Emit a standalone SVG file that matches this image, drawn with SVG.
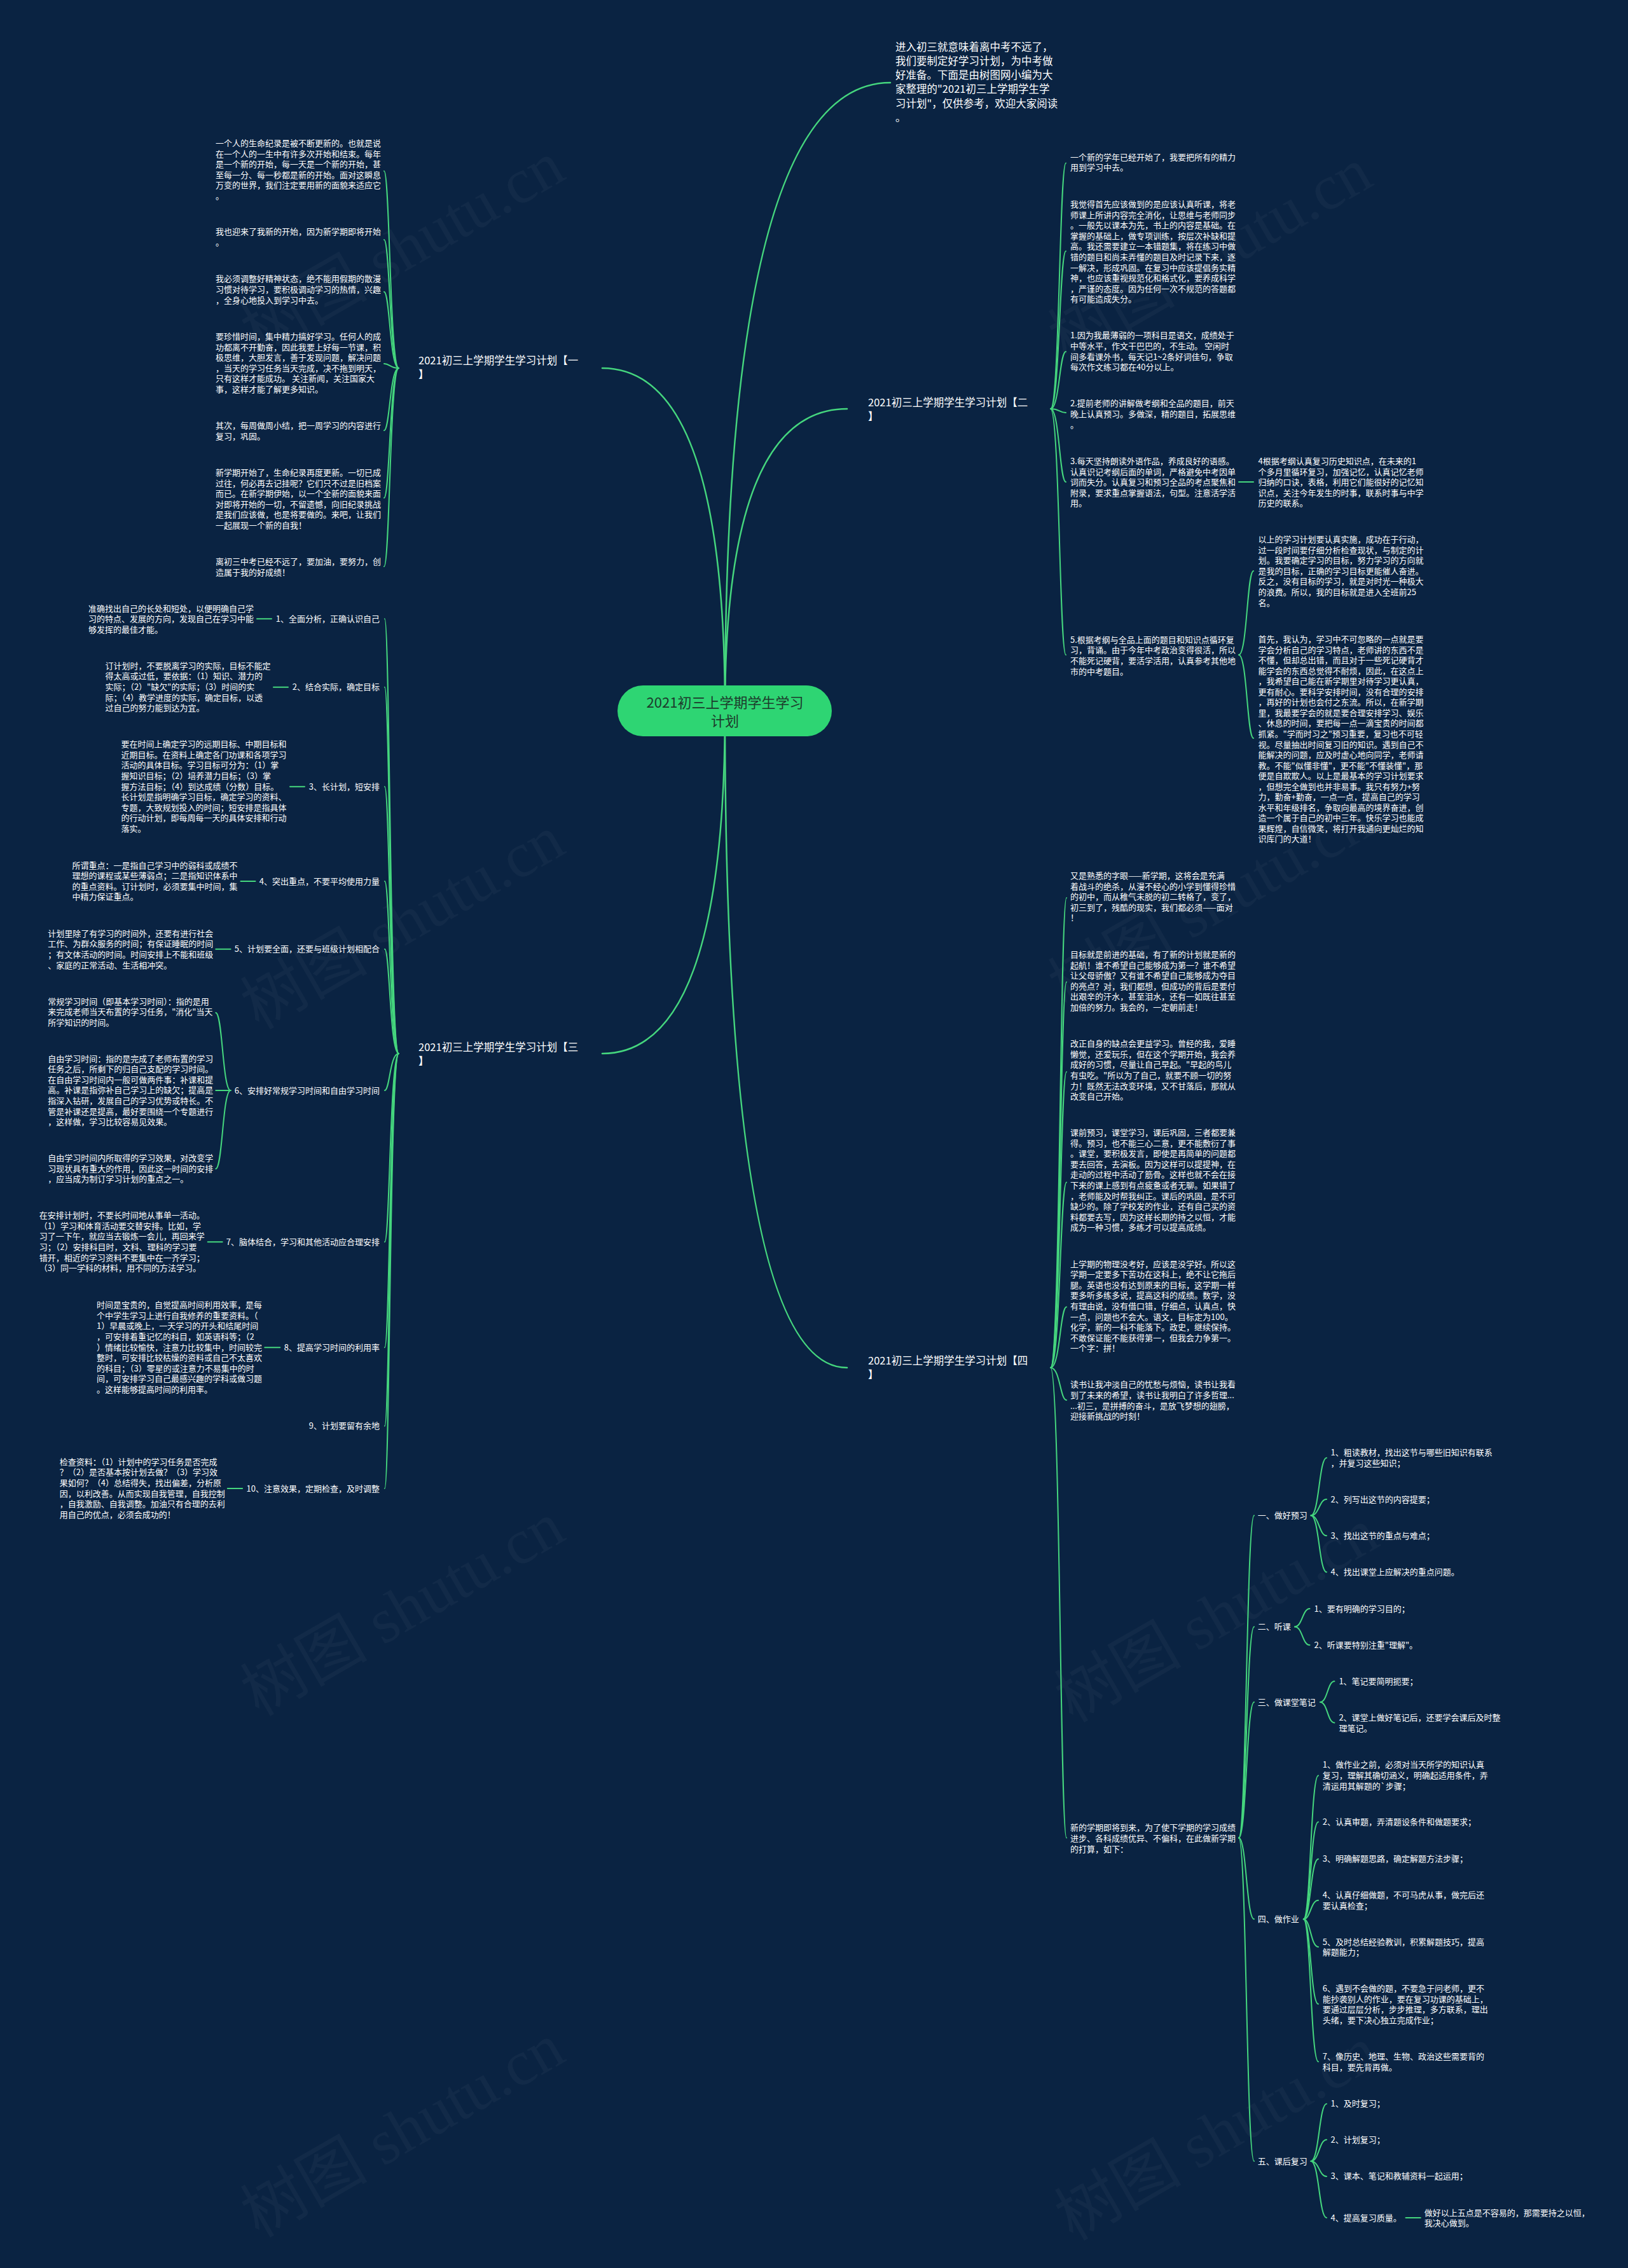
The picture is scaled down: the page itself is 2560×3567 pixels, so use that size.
<svg xmlns="http://www.w3.org/2000/svg" width="2560" height="3567" viewBox="0 0 2560 3567">
<style>
.t{font-family:"Noto Sans CJK SC","Noto Sans",sans-serif;font-size:13px;fill:#ffffff}
.l{font-size:16.5px}
.ct{font-family:"Noto Sans CJK SC","Noto Sans",sans-serif;font-size:22px;fill:#1d3b2c}
.e{text-anchor:end}
.c{stroke:#45d67e;stroke-width:2;fill:none;stroke-linecap:round}
.c1{stroke-width:2.5}
.wm{font-family:"Liberation Serif","Noto Sans CJK SC",serif;font-size:100px;fill:#ffffff;fill-opacity:0.035;text-anchor:middle}
</style>
<rect x="0" y="0" width="2560" height="3567" fill="#0a2342"/>
<g id="watermarks">
<text class="wm" x="650" y="420" transform="rotate(-30 650 420)">树图 shutu.cn</text>
<text class="wm" x="1920" y="430" transform="rotate(-30 1920 430)">树图 shutu.cn</text>
<text class="wm" x="650" y="1480" transform="rotate(-30 650 1480)">树图 shutu.cn</text>
<text class="wm" x="1920" y="1450" transform="rotate(-30 1920 1450)">树图 shutu.cn</text>
<text class="wm" x="650" y="2560" transform="rotate(-30 650 2560)">树图 shutu.cn</text>
<text class="wm" x="1930" y="2570" transform="rotate(-30 1930 2570)">树图 shutu.cn</text>
<text class="wm" x="650" y="3380" transform="rotate(-30 650 3380)">树图 shutu.cn</text>
<text class="wm" x="1930" y="3385" transform="rotate(-30 1930 3385)">树图 shutu.cn</text>
</g>
<g id="connectors">
<path class="c c1" d="M1140,1118 Q1140,130 1400,130"/>
<path class="c c1" d="M1140,1118 Q1140,579 947,579"/>
<path class="c c1" d="M1140,1118 Q1140,643 1332,643"/>
<path class="c c1" d="M1140,1118 Q1140,1657 947,1657"/>
<path class="c c1" d="M1140,1118 Q1140,2151 1332,2151"/>
<path class="c" d="M627,579 C613,579 613,269 604,269"/>
<path class="c" d="M627,579 C613,579 613,377 604,377"/>
<path class="c" d="M627,579 C613,579 613,459 604,459"/>
<path class="c" d="M627,579 C613,579 613,572 604,572"/>
<path class="c" d="M627,579 C613,579 613,677 604,677"/>
<path class="c" d="M627,579 C613,579 613,783 604,783"/>
<path class="c" d="M627,579 C613,579 613,891 604,891"/>
<path class="c" d="M1652,643 C1666,643 1666,256.5 1676,256.5"/>
<path class="c" d="M1652,643 C1666,643 1666,395 1676,395"/>
<path class="c" d="M1652,643 C1666,643 1666,553 1676,553"/>
<path class="c" d="M1652,643 C1666,643 1666,649 1676,649"/>
<path class="c" d="M1652,643 C1666,643 1666,758 1676,758"/>
<path class="c" d="M1652,643 C1666,643 1666,1030 1676,1030"/>
<path class="c" d="M1948,758 L1971,758"/>
<path class="c" d="M1948,1030 C1961,1030 1961,898 1971,898"/>
<path class="c" d="M1948,1030 C1961,1030 1961,1161 1971,1161"/>
<path class="c" d="M627,1657 C613,1657 613,973.3 605,973.3"/>
<path class="c" d="M627,1657 C613,1657 613,1080.7 605,1080.7"/>
<path class="c" d="M627,1657 C613,1657 613,1237.3 605,1237.3"/>
<path class="c" d="M627,1657 C613,1657 613,1386 605,1386"/>
<path class="c" d="M627,1657 C613,1657 613,1492.7 605,1492.7"/>
<path class="c" d="M627,1657 C613,1657 613,1715 605,1715"/>
<path class="c" d="M627,1657 C613,1657 613,1953.3 605,1953.3"/>
<path class="c" d="M627,1657 C613,1657 613,2119.3 605,2119.3"/>
<path class="c" d="M627,1657 C613,1657 613,2242.7 605,2242.7"/>
<path class="c" d="M627,1657 C613,1657 613,2341 605,2341"/>
<path class="c" d="M404,973.3 L427,973.3"/>
<path class="c" d="M430,1080.7 L453,1080.7"/>
<path class="c" d="M456,1237.3 L479,1237.3"/>
<path class="c" d="M378.5,1386 L401.5,1386"/>
<path class="c" d="M339.3,1492.7 L362.6,1492.7"/>
<path class="c" d="M362.6,1715 C350,1715 350,1592.7 339.3,1592.7"/>
<path class="c" d="M362.6,1715 L339.3,1715"/>
<path class="c" d="M362.6,1715 C350,1715 350,1838.3 339.3,1838.3"/>
<path class="c" d="M326.7,1953.3 L349.7,1953.3"/>
<path class="c" d="M416.3,2119.3 L440.3,2119.3"/>
<path class="c" d="M357.8,2341 L381.1,2341"/>
<path class="c" d="M1652,2151 C1667,2151 1667,1412 1677,1412"/>
<path class="c" d="M1652,2151 C1667,2151 1667,1544.6 1677,1544.6"/>
<path class="c" d="M1652,2151 C1667,2151 1667,1685.7 1677,1685.7"/>
<path class="c" d="M1652,2151 C1667,2151 1667,1859.6 1677,1859.6"/>
<path class="c" d="M1652,2151 C1667,2151 1667,2055.6 1677,2055.6"/>
<path class="c" d="M1652,2151 C1667,2151 1667,2202 1677,2202"/>
<path class="c" d="M1652,2151 C1667,2151 1667,2890.4 1677,2890.4"/>
<path class="c" d="M1948,2890.4 C1960,2890.4 1960,2383.6 1972,2383.6"/>
<path class="c" d="M1948,2890.4 C1960,2890.4 1960,2558.4 1972,2558.4"/>
<path class="c" d="M1948,2890.4 C1960,2890.4 1960,2677 1972,2677"/>
<path class="c" d="M1948,2890.4 C1960,2890.4 1960,3018.3 1972,3018.3"/>
<path class="c" d="M1948,2890.4 C1960,2890.4 1960,3399 1972,3399"/>
<path class="c" d="M2061.5,2383.6 C2074.3,2383.6 2074.3,2292.7 2086,2292.7"/>
<path class="c" d="M2061.5,2383.6 C2074.3,2383.6 2074.3,2358 2086,2358"/>
<path class="c" d="M2061.5,2383.6 C2074.3,2383.6 2074.3,2415.3 2086,2415.3"/>
<path class="c" d="M2061.5,2383.6 C2074.3,2383.6 2074.3,2472.6 2086,2472.6"/>
<path class="c" d="M2036,2558.4 C2048,2558.4 2048,2530 2059.5,2530"/>
<path class="c" d="M2036,2558.4 C2048,2558.4 2048,2587.3 2059.5,2587.3"/>
<path class="c" d="M2076,2677 C2087.5,2677 2087.5,2644.2 2098.4,2644.2"/>
<path class="c" d="M2076,2677 C2087.5,2677 2087.5,2709.5 2098.4,2709.5"/>
<path class="c" d="M2049.8,3018.3 C2061,3018.3 2061,2792.5 2073,2792.5"/>
<path class="c" d="M2049.8,3018.3 C2061,3018.3 2061,2865.5 2073,2865.5"/>
<path class="c" d="M2049.8,3018.3 C2061,3018.3 2061,2923.7 2073,2923.7"/>
<path class="c" d="M2049.8,3018.3 C2061,3018.3 2061,2988.8 2073,2988.8"/>
<path class="c" d="M2049.8,3018.3 C2061,3018.3 2061,3062 2073,3062"/>
<path class="c" d="M2049.8,3018.3 C2061,3018.3 2061,3151.8 2073,3151.8"/>
<path class="c" d="M2049.8,3018.3 C2061,3018.3 2061,3242.5 2073,3242.5"/>
<path class="c" d="M2061.5,3399 C2074.3,3399 2074.3,3308.8 2086,3308.8"/>
<path class="c" d="M2061.5,3399 C2074.3,3399 2074.3,3365.2 2086,3365.2"/>
<path class="c" d="M2061.5,3399 C2074.3,3399 2074.3,3422.9 2086,3422.9"/>
<path class="c" d="M2061.5,3399 C2074.3,3399 2074.3,3488 2086,3488"/>
<path class="c" d="M2210.5,3488 L2233.8,3488"/>
</g>
<g id="center">
<rect x="971" y="1078" width="337" height="80" rx="40" fill="#2ed573"/>
<text class="ct" text-anchor="middle"><tspan x="1140" y="1113">2021初三上学期学生学习</tspan><tspan x="1140" y="1142">计划</tspan></text>
</g>
<g id="intro"><text class="t l"><tspan x="1408" y="79.5">进入初三就意味着离中考不远了，</tspan><tspan x="1408" dy="22.3">我们要制定好学习计划，为中考做</tspan><tspan x="1408" dy="22.3">好准备。下面是由树图网小编为大</tspan><tspan x="1408" dy="22.3">家整理的"2021初三上学期学生学</tspan><tspan x="1408" dy="22.3">习计划"，仅供参考，欢迎大家阅读</tspan><tspan x="1408" dy="22.3">。</tspan></text></g>
<g id="branch1"><text class="t l"><tspan x="658" y="573">2021初三上学期学生学习计划【一</tspan><tspan x="658" dy="22">】</tspan></text></g>
<g id="b1n1"><text class="t"><tspan x="339" y="230">一个人的生命纪录是被不断更新的。也就是说</tspan><tspan x="339" dy="16.6">在一个人的一生中有许多次开始和结束。每年</tspan><tspan x="339" dy="16.6">是一个新的开始，每一天是一个新的开始，甚</tspan><tspan x="339" dy="16.6">至每一分、每一秒都是新的开始。面对这瞬息</tspan><tspan x="339" dy="16.6">万变的世界，我们注定要用新的面貌来适应它</tspan><tspan x="339" dy="16.6">。</tspan></text></g>
<g id="b1n2"><text class="t"><tspan x="339" y="369">我也迎来了我新的开始，因为新学期即将开始</tspan><tspan x="339" dy="16.6">。</tspan></text></g>
<g id="b1n3"><text class="t"><tspan x="339" y="443.4">我必须调整好精神状态，绝不能用假期的散漫</tspan><tspan x="339" dy="16.6">习惯对待学习，要积极调动学习的热情，兴趣</tspan><tspan x="339" dy="16.6">，全身心地投入到学习中去。</tspan></text></g>
<g id="b1n4"><text class="t"><tspan x="339" y="534">要珍惜时间，集中精力搞好学习。任何人的成</tspan><tspan x="339" dy="16.6">功都离不开勤奋，因此我要上好每一节课，积</tspan><tspan x="339" dy="16.6">极思维，大胆发言，善于发现问题，解决问题</tspan><tspan x="339" dy="16.6">，当天的学习任务当天完成，决不拖到明天，</tspan><tspan x="339" dy="16.6">只有这样才能成功。 关注新闻，关注国家大</tspan><tspan x="339" dy="16.6">事，这样才能了解更多知识。</tspan></text></g>
<g id="b1n5"><text class="t"><tspan x="339" y="674">其次，每周做周小结，把一周学习的内容进行</tspan><tspan x="339" dy="16.6">复习，巩固。</tspan></text></g>
<g id="b1n6"><text class="t"><tspan x="339" y="748">新学期开始了，生命纪录再度更新。一切已成</tspan><tspan x="339" dy="16.6">过往，何必再去记挂呢？它们只不过是旧档案</tspan><tspan x="339" dy="16.6">而已。在新学期伊始，以一个全新的面貌来面</tspan><tspan x="339" dy="16.6">对即将开始的一切，不留遗憾，向旧纪录挑战</tspan><tspan x="339" dy="16.6">是我们应该做，也是将要做的。来吧，让我们</tspan><tspan x="339" dy="16.6">一起展现一个新的自我！</tspan></text></g>
<g id="b1n7"><text class="t"><tspan x="339" y="888">离初三中考已经不远了，要加油，要努力，创</tspan><tspan x="339" dy="16.6">造属于我的好成绩！</tspan></text></g>
<g id="branch2"><text class="t l"><tspan x="1365" y="639">2021初三上学期学生学习计划【二</tspan><tspan x="1365" dy="22">】</tspan></text></g>
<g id="b2n1"><text class="t"><tspan x="1683" y="251.5">一个新的学年已经开始了，我要把所有的精力</tspan><tspan x="1683" dy="16.6">用到学习中去。</tspan></text></g>
<g id="b2n2"><text class="t"><tspan x="1683" y="326">我觉得首先应该做到的是应该认真听课，将老</tspan><tspan x="1683" dy="16.6">师课上所讲内容完全消化，让思维与老师同步</tspan><tspan x="1683" dy="16.6">。一般先以课本为先，书上的内容是基础。在</tspan><tspan x="1683" dy="16.6">掌握的基础上，做专项训练，按层次补缺和提</tspan><tspan x="1683" dy="16.6">高。我还需要建立一本错题集，将在练习中做</tspan><tspan x="1683" dy="16.6">错的题目和尚未弄懂的题目及时记录下来，逐</tspan><tspan x="1683" dy="16.6">一解决，形成巩固。在复习中应该提倡务实精</tspan><tspan x="1683" dy="16.6">神，也应该重视规范化和格式化，要养成科学</tspan><tspan x="1683" dy="16.6">，严谨的态度。因为任何一次不规范的答题都</tspan><tspan x="1683" dy="16.6">有可能造成失分。</tspan></text></g>
<g id="b2n3"><text class="t"><tspan x="1683" y="532.3">1.因为我最薄弱的一项科目是语文，成绩处于</tspan><tspan x="1683" dy="16.6">中等水平，作文干巴巴的，不生动。 空闲时</tspan><tspan x="1683" dy="16.6">间多看课外书，每天记1~2条好词佳句，争取</tspan><tspan x="1683" dy="16.6">每次作文练习都在40分以上。</tspan></text></g>
<g id="b2n4"><text class="t"><tspan x="1683" y="639.4">2.提前老师的讲解做考纲和全品的题目，前天</tspan><tspan x="1683" dy="16.6">晚上认真预习。多做深，精的题目，拓展思维</tspan><tspan x="1683" dy="16.6">。</tspan></text></g>
<g id="b2n5"><text class="t"><tspan x="1683" y="730">3.每天坚持朗读外语作品，养成良好的语感。</tspan><tspan x="1683" dy="16.6">认真识记考纲后面的单词，严格避免中考因单</tspan><tspan x="1683" dy="16.6">词而失分。认真复习和预习全品的考点聚焦和</tspan><tspan x="1683" dy="16.6">附录，要求重点掌握语法，句型。注意活学活</tspan><tspan x="1683" dy="16.6">用。</tspan></text></g>
<g id="b2n5a"><text class="t"><tspan x="1978.5" y="730">4根据考纲认真复习历史知识点，在未来的1</tspan><tspan x="1978.5" dy="16.6">个多月里循环复习，加强记忆，认真记忆老师</tspan><tspan x="1978.5" dy="16.6">归纳的口诀，表格，利用它们能很好的记忆知</tspan><tspan x="1978.5" dy="16.6">识点，关注今年发生的时事，联系时事与中学</tspan><tspan x="1978.5" dy="16.6">历史的联系。</tspan></text></g>
<g id="b2n6"><text class="t"><tspan x="1683" y="1010.8">5.根据考纲与全品上面的题目和知识点循环复</tspan><tspan x="1683" dy="16.6">习，背诵。由于今年中考政治变得很活，所以</tspan><tspan x="1683" dy="16.6">不能死记硬背，要活学活用，认真参考其他地</tspan><tspan x="1683" dy="16.6">市的中考题目。</tspan></text></g>
<g id="b2n6a"><text class="t"><tspan x="1978.5" y="853">以上的学习计划要认真实施，成功在于行动，</tspan><tspan x="1978.5" dy="16.6">过一段时间要仔细分析检查现状，与制定的计</tspan><tspan x="1978.5" dy="16.6">划。我要确定学习的目标，努力学习的方向就</tspan><tspan x="1978.5" dy="16.6">是我的目标，正确的学习目标更能催人奋进。</tspan><tspan x="1978.5" dy="16.6">反之，没有目标的学习，就是对时光一种极大</tspan><tspan x="1978.5" dy="16.6">的浪费。所以，我的目标就是进入全班前25</tspan><tspan x="1978.5" dy="16.6">名。</tspan></text></g>
<g id="b2n6b"><text class="t"><tspan x="1978.5" y="1010">首先，我认为，学习中不可忽略的一点就是要</tspan><tspan x="1978.5" dy="16.55">学会分析自己的学习特点，老师讲的东西不是</tspan><tspan x="1978.5" dy="16.55">不懂，但却总出错，而且对于一些死记硬背才</tspan><tspan x="1978.5" dy="16.55">能学会的东西总觉得不耐烦，因此，在这点上</tspan><tspan x="1978.5" dy="16.55">，我希望自己能在新学期里对待学习更认真，</tspan><tspan x="1978.5" dy="16.55">更有耐心。要科学安排时间，没有合理的安排</tspan><tspan x="1978.5" dy="16.55">，再好的计划也会付之东流。所以，在新学期</tspan><tspan x="1978.5" dy="16.55">里，我最要学会的就是要合理安排学习、娱乐</tspan><tspan x="1978.5" dy="16.55">、休息的时间，要把每一点一滴宝贵的时间都</tspan><tspan x="1978.5" dy="16.55">抓紧。"学而时习之"预习重要，复习也不可轻</tspan><tspan x="1978.5" dy="16.55">视。尽量抽出时间复习旧的知识。遇到自己不</tspan><tspan x="1978.5" dy="16.55">能解决的问题，应及时虚心地向同学，老师请</tspan><tspan x="1978.5" dy="16.55">教。不能"似懂非懂"，更不能"不懂装懂"，那</tspan><tspan x="1978.5" dy="16.55">便是自欺欺人。以上是最基本的学习计划要求</tspan><tspan x="1978.5" dy="16.55">，但想完全做到也并非易事。我只有努力+努</tspan><tspan x="1978.5" dy="16.55">力，勤奋+勤奋，一点一点，提高自己的学习</tspan><tspan x="1978.5" dy="16.55">水平和年级排名，争取向最高的境界奋进，创</tspan><tspan x="1978.5" dy="16.55">造一个属于自己的初中三年。快乐学习也能成</tspan><tspan x="1978.5" dy="16.55">果辉煌，自信微笑，将打开我通向更灿烂的知</tspan><tspan x="1978.5" dy="16.55">识库门的大道！</tspan></text></g>
<g id="branch3"><text class="t l"><tspan x="658" y="1653">2021初三上学期学生学习计划【三</tspan><tspan x="658" dy="22">】</tspan></text></g>
<g id="b3n1"><text class="t e" x="597" y="977.8">1、全面分析，正确认识自己</text></g>
<g id="b3n1a"><text class="t"><tspan x="139" y="961.8">准确找出自己的长处和短处，以便明确自己学</tspan><tspan x="139" dy="16.6">习的特点、发展的方向，发现自己在学习中能</tspan><tspan x="139" dy="16.6">够发挥的最佳才能。</tspan></text></g>
<g id="b3n2"><text class="t e" x="597" y="1085.2">2、结合实际，确定目标</text></g>
<g id="b3n2a"><text class="t"><tspan x="165.4" y="1051.8">订计划时，不要脱离学习的实际，目标不能定</tspan><tspan x="165.4" dy="16.6">得太高或过低，要依据：（1）知识、潜力的</tspan><tspan x="165.4" dy="16.6">实际；（2）"缺欠"的实际；（3）时间的实</tspan><tspan x="165.4" dy="16.6">际；（4）教学进度的实际，确定目标，以透</tspan><tspan x="165.4" dy="16.6">过自己的努力能到达为宜。</tspan></text></g>
<g id="b3n3"><text class="t e" x="597" y="1241.8">3、长计划，短安排</text></g>
<g id="b3n3a"><text class="t"><tspan x="190.6" y="1175.2">要在时间上确定学习的远期目标、中期目标和</tspan><tspan x="190.6" dy="16.6">近期目标。在资料上确定各门功课和各项学习</tspan><tspan x="190.6" dy="16.6">活动的具体目标。学习目标可分为：（1）掌</tspan><tspan x="190.6" dy="16.6">握知识目标；（2）培养潜力目标；（3）掌</tspan><tspan x="190.6" dy="16.6">握方法目标；（4）到达成绩（分数）目标。</tspan><tspan x="190.6" dy="16.6">长计划是指明确学习目标，确定学习的资料、</tspan><tspan x="190.6" dy="16.6">专题，大致规划投入的时间；短安排是指具体</tspan><tspan x="190.6" dy="16.6">的行动计划，即每周每一天的具体安排和行动</tspan><tspan x="190.6" dy="16.6">落实。</tspan></text></g>
<g id="b3n4"><text class="t e" x="597" y="1390.5">4、突出重点，不要平均使用力量</text></g>
<g id="b3n4a"><text class="t"><tspan x="113.6" y="1365.5">所谓重点：一是指自己学习中的弱科或成绩不</tspan><tspan x="113.6" dy="16.6">理想的课程或某些薄弱点；二是指知识体系中</tspan><tspan x="113.6" dy="16.6">的重点资料。订计划时，必须要集中时间，集</tspan><tspan x="113.6" dy="16.6">中精力保证重点。</tspan></text></g>
<g id="b3n5"><text class="t e" x="597" y="1497.2">5、计划要全面，还要与班级计划相配合</text></g>
<g id="b3n5a"><text class="t"><tspan x="75.2" y="1472.8">计划里除了有学习的时间外，还要有进行社会</tspan><tspan x="75.2" dy="16.6">工作、为群众服务的时间；有保证睡眠的时间</tspan><tspan x="75.2" dy="16.6">；有文体活动的时间。时间安排上不能和班级</tspan><tspan x="75.2" dy="16.6">、家庭的正常活动、生活相冲突。</tspan></text></g>
<g id="b3n6"><text class="t e" x="597" y="1719.5">6、安排好常规学习时间和自由学习时间</text></g>
<g id="b3n6a"><text class="t"><tspan x="75.2" y="1579.5">常规学习时间（即基本学习时间）：指的是用</tspan><tspan x="75.2" dy="16.6">来完成老师当天布置的学习任务，"消化"当天</tspan><tspan x="75.2" dy="16.6">所学知识的时间。</tspan></text></g>
<g id="b3n6b"><text class="t"><tspan x="75.2" y="1669.5">自由学习时间：指的是完成了老师布置的学习</tspan><tspan x="75.2" dy="16.6">任务之后，所剩下的归自己支配的学习时间。</tspan><tspan x="75.2" dy="16.6">在自由学习时间内一般可做两件事：补课和提</tspan><tspan x="75.2" dy="16.6">高。补课是指弥补自己学习上的缺欠；提高是</tspan><tspan x="75.2" dy="16.6">指深入钻研，发展自己的学习优势或特长。不</tspan><tspan x="75.2" dy="16.6">管是补课还是提高，最好要围绕一个专题进行</tspan><tspan x="75.2" dy="16.6">，这样做，学习比较容易见效果。</tspan></text></g>
<g id="b3n6c"><text class="t"><tspan x="75.2" y="1826.2">自由学习时间内所取得的学习效果，对改变学</tspan><tspan x="75.2" dy="16.6">习现状具有重大的作用，因此这一时间的安排</tspan><tspan x="75.2" dy="16.6">，应当成为制订学习计划的重点之一。</tspan></text></g>
<g id="b3n7"><text class="t e" x="597" y="1957.8">7、脑体结合，学习和其他活动应合理安排</text></g>
<g id="b3n7a"><text class="t"><tspan x="61.8" y="1916.2">在安排计划时，不要长时间地从事单一活动。</tspan><tspan x="61.8" dy="16.6">（1）学习和体育活动要交替安排。比如，学</tspan><tspan x="61.8" dy="16.6">习了一下午，就应当去锻炼一会儿，再回来学</tspan><tspan x="61.8" dy="16.6">习；（2）安排科目时，文科、理科的学习要</tspan><tspan x="61.8" dy="16.6">错开，相近的学习资料不要集中在一齐学习；</tspan><tspan x="61.8" dy="16.6">（3）同一学科的材料，用不同的方法学习。</tspan></text></g>
<g id="b3n8"><text class="t e" x="597" y="2123.8">8、提高学习时间的利用率</text></g>
<g id="b3n8a"><text class="t"><tspan x="152.1" y="2057.2">时间是宝贵的，自觉提高时间利用效率，是每</tspan><tspan x="152.1" dy="16.6">个中学生学习上进行自我修养的重要资料。（</tspan><tspan x="152.1" dy="16.6">1）早晨或晚上，一天学习的开头和结尾时间</tspan><tspan x="152.1" dy="16.6">，可安排着重记忆的科目，如英语科等；（2</tspan><tspan x="152.1" dy="16.6">）情绪比较愉快，注意力比较集中，时间较完</tspan><tspan x="152.1" dy="16.6">整时，可安排比较枯燥的资料或自己不太喜欢</tspan><tspan x="152.1" dy="16.6">的科目；（3）零星的或注意力不易集中的时</tspan><tspan x="152.1" dy="16.6">间，可安排学习自己最感兴趣的学科或做习题</tspan><tspan x="152.1" dy="16.6">。这样能够提高时间的利用率。</tspan></text></g>
<g id="b3n9"><text class="t e" x="597" y="2247.2">9、计划要留有余地</text></g>
<g id="b3n10"><text class="t e" x="597" y="2345.5">10、注意效果，定期检查，及时调整</text></g>
<g id="b3n10a"><text class="t"><tspan x="93.7" y="2303.8">检查资料：（1）计划中的学习任务是否完成</tspan><tspan x="93.7" dy="16.6">？（2）是否基本按计划去做？（3）学习效</tspan><tspan x="93.7" dy="16.6">果如何？（4）总结得失，找出偏差，分析原</tspan><tspan x="93.7" dy="16.6">因，以利改善。从而实现自我管理，自我控制</tspan><tspan x="93.7" dy="16.6">，自我激励、自我调整。加油只有合理的去利</tspan><tspan x="93.7" dy="16.6">用自己的优点，必须会成功的！</tspan></text></g>
<g id="branch4"><text class="t l"><tspan x="1365" y="2146">2021初三上学期学生学习计划【四</tspan><tspan x="1365" dy="22">】</tspan></text></g>
<g id="b4n1"><text class="t"><tspan x="1683" y="1382">又是熟悉的字眼——新学期，这将会是充满</tspan><tspan x="1683" dy="16.6">着战斗的绝杀，从漫不经心的小学到懂得珍惜</tspan><tspan x="1683" dy="16.6">的初中，而从稚气未脱的初二转格了，变了，</tspan><tspan x="1683" dy="16.6">初三到了，残酷的现实，我们都必须——面对</tspan><tspan x="1683" dy="16.6">！</tspan></text></g>
<g id="b4n2"><text class="t"><tspan x="1683" y="1506">目标就是前进的基础，有了新的计划就是新的</tspan><tspan x="1683" dy="16.6">起航！谁不希望自己能够成为第一？谁不希望</tspan><tspan x="1683" dy="16.6">让父母骄傲？又有谁不希望自己能够成为夺目</tspan><tspan x="1683" dy="16.6">的亮点？对，我们都想，但成功的背后是要付</tspan><tspan x="1683" dy="16.6">出艰辛的汗水，甚至泪水，还有一如既往甚至</tspan><tspan x="1683" dy="16.6">加倍的努力。我会的，一定朝前走！</tspan></text></g>
<g id="b4n3"><text class="t"><tspan x="1683" y="1646.2">改正自身的缺点会更益学习。曾经的我，爱睡</tspan><tspan x="1683" dy="16.6">懒觉，还爱玩乐，但在这个学期开始，我会养</tspan><tspan x="1683" dy="16.6">成好的习惯，尽量让自己早起。"早起的鸟儿</tspan><tspan x="1683" dy="16.6">有虫吃。"所以为了自己，就要不顾一切的努</tspan><tspan x="1683" dy="16.6">力！既然无法改变环境，又不甘落后，那就从</tspan><tspan x="1683" dy="16.6">改变自己开始。</tspan></text></g>
<g id="b4n4"><text class="t"><tspan x="1683" y="1786">课前预习，课堂学习，课后巩固，三者都要兼</tspan><tspan x="1683" dy="16.6">得。预习，也不能三心二意，更不能敷衍了事</tspan><tspan x="1683" dy="16.6">。课堂，要积极发言，即使是再简单的问题都</tspan><tspan x="1683" dy="16.6">要去回答，去演板。因为这样可以提提神，在</tspan><tspan x="1683" dy="16.6">走动的过程中活动了筋骨。这样也就不会在接</tspan><tspan x="1683" dy="16.6">下来的课上感到有点疲惫或者无聊。如果错了</tspan><tspan x="1683" dy="16.6">，老师能及时帮我纠正。课后的巩固，是不可</tspan><tspan x="1683" dy="16.6">缺少的。除了学校发的作业，还有自己买的资</tspan><tspan x="1683" dy="16.6">料都要去写，因为这样长期的持之以恒，才能</tspan><tspan x="1683" dy="16.6">成为一种习惯，多练才可以提高成绩。</tspan></text></g>
<g id="b4n5"><text class="t"><tspan x="1683" y="1992.6">上学期的物理没考好，应该是没学好。所以这</tspan><tspan x="1683" dy="16.6">学期一定要多下苦功在这科上，绝不让它拖后</tspan><tspan x="1683" dy="16.6">腿。英语也没有达到原来的目标，这学期一样</tspan><tspan x="1683" dy="16.6">要多听多练多说，提高这科的成绩。数学，没</tspan><tspan x="1683" dy="16.6">有理由说，没有借口错，仔细点，认真点，快</tspan><tspan x="1683" dy="16.6">一点，问题也不会大。语文，目标定为100。</tspan><tspan x="1683" dy="16.6">化学，新的一科不能落下。政史，继续保持。</tspan><tspan x="1683" dy="16.6">不敢保证能不能获得第一，但我会力争第一。</tspan><tspan x="1683" dy="16.6">一个字：拼！</tspan></text></g>
<g id="b4n6"><text class="t"><tspan x="1683" y="2182.4">读书让我冲淡自己的忧愁与烦恼，读书让我看</tspan><tspan x="1683" dy="16.6">到了未来的希望，读书让我明白了许多哲理...</tspan><tspan x="1683" dy="16.6">...初三，是拼搏的奋斗，是放飞梦想的翅膀，</tspan><tspan x="1683" dy="16.6">迎接新挑战的时刻！</tspan></text></g>
<g id="b4n7"><text class="t"><tspan x="1683" y="2879.4">新的学期即将到来，为了使下学期的学习成绩</tspan><tspan x="1683" dy="16.6">进步、各科成绩优异、不偏科，在此做新学期</tspan><tspan x="1683" dy="16.6">的打算，如下：</tspan></text></g>
<g id="s1"><text class="t" x="1977.8" y="2388.1">一、做好预习</text></g>
<g id="s1a"><text class="t"><tspan x="2092.6" y="2289.3">1、粗读教材，找出这节与哪些旧知识有联系</tspan><tspan x="2092.6" dy="16.6">，并复习这些知识；</tspan></text></g>
<g id="s1b"><text class="t" x="2092.6" y="2362.5">2、列写出这节的内容提要；</text></g>
<g id="s1c"><text class="t" x="2092.6" y="2419.8">3、找出这节的重点与难点；</text></g>
<g id="s1d"><text class="t" x="2092.6" y="2477.1">4、找出课堂上应解决的重点问题。</text></g>
<g id="s2"><text class="t" x="1977.8" y="2562.9">二、听课</text></g>
<g id="s2a"><text class="t" x="2066.5" y="2534.5">1、要有明确的学习目的；</text></g>
<g id="s2b"><text class="t" x="2066.5" y="2591.8">2、听课要特别注重"理解"。</text></g>
<g id="s3"><text class="t" x="1977.8" y="2681.5">三、做课堂笔记</text></g>
<g id="s3a"><text class="t" x="2105.4" y="2648.7">1、笔记要简明扼要；</text></g>
<g id="s3b"><text class="t"><tspan x="2105.4" y="2706.1">2、课堂上做好笔记后，还要学会课后及时整</tspan><tspan x="2105.4" dy="16.6">理笔记。</tspan></text></g>
<g id="s4"><text class="t" x="1977.8" y="3022.8">四、做作业</text></g>
<g id="s4a"><text class="t"><tspan x="2079.8" y="2780.4">1、做作业之前，必须对当天所学的知识认真</tspan><tspan x="2079.8" dy="16.6">复习，理解其确切涵义，明确起适用条件，弄</tspan><tspan x="2079.8" dy="16.6">清运用其解题的`步骤；</tspan></text></g>
<g id="s4b"><text class="t" x="2079.8" y="2870">2、认真审题，弄清题设条件和做题要求；</text></g>
<g id="s4c"><text class="t" x="2079.8" y="2928.2">3、明确解题思路，确定解题方法步骤；</text></g>
<g id="s4d"><text class="t"><tspan x="2079.8" y="2985.1">4、认真仔细做题，不可马虎从事，做完后还</tspan><tspan x="2079.8" dy="16.6">要认真检查；</tspan></text></g>
<g id="s4e"><text class="t"><tspan x="2079.8" y="3058.8">5、及时总结经验教训，积累解题技巧，提高</tspan><tspan x="2079.8" dy="16.6">解题能力；</tspan></text></g>
<g id="s4f"><text class="t"><tspan x="2079.8" y="3132.1">6、遇到不会做的题，不要急于问老师，更不</tspan><tspan x="2079.8" dy="16.6">能抄袭别人的作业，要在复习功课的基础上，</tspan><tspan x="2079.8" dy="16.6">要通过层层分析，步步推理，多方联系，理出</tspan><tspan x="2079.8" dy="16.6">头绪，要下决心独立完成作业；</tspan></text></g>
<g id="s4g"><text class="t"><tspan x="2079.8" y="3239.2">7、像历史、地理、生物、政治这些需要背的</tspan><tspan x="2079.8" dy="16.6">科目，要先背再做。</tspan></text></g>
<g id="s5"><text class="t" x="1977.8" y="3403.5">五、课后复习</text></g>
<g id="s5a"><text class="t" x="2092.6" y="3313.3">1、及时复习；</text></g>
<g id="s5b"><text class="t" x="2092.6" y="3369.7">2、计划复习；</text></g>
<g id="s5c"><text class="t" x="2092.6" y="3427.4">3、课本、笔记和教辅资料一起运用；</text></g>
<g id="s5d"><text class="t" x="2092.6" y="3492.5">4、提高复习质量。</text></g>
<g id="s5d1"><text class="t"><tspan x="2239.7" y="3484.6">做好以上五点是不容易的，那需要持之以恒，</tspan><tspan x="2239.7" dy="16.6">我决心做到。</tspan></text></g>
</svg>
